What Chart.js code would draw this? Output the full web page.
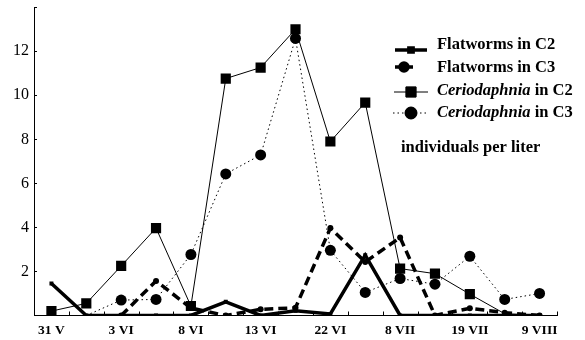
<!DOCTYPE html>
<html lang="en">
<head>
<meta charset="UTF-8">
<title>Flatworms and Ceriodaphnia</title>
<script src="https://cdn.jsdelivr.net/npm/chart.js"></script>
<style>
  html, body { margin: 0; padding: 0; background: #fff; }
  #wrap { position: relative; width: 585px; height: 340px; }
</style>
</head>
<body>
<div id="wrap"><canvas id="chart" width="585" height="340"></canvas></div>
<script>
// sampling dates (only every second one is labelled)
var dates = ['31 V', '', '3 VI', '', '8 VI', '', '13 VI', '', '22 VI', '', '8 VII', '', '19 VII', '', '9 VIII'];
var yTicks = [2, 4, 6, 8, 10, 12];

// individuals per liter
var flatC2 = [1.45, 0, 0, 0, 0, 0.62, 0, 0.22, 0.07, 2.74, 0, 0, 0, 0, 0];
var flatC3 = [null, null, 0, 1.57, 0.34, 0, 0.28, 0.35, 3.97, 2.43, 3.54, 0, 0.33, 0.13, 0];
var cerioC2 = [0.2, 0.55, 2.25, 3.97, 0.43, 10.76, 11.26, 13.0, 7.9, 9.67, 2.13, 1.9, 0.97, 0.08, 0];
var cerioC3 = [null, 0, 0.7, 0.73, 2.77, 6.43, 7.29, 12.58, 2.96, 1.05, 1.68, 1.42, 2.69, 0.73, 1.0];

var serif = '"Liberation Serif", "Times New Roman", serif';
Chart.defaults.font.family = serif;

// hide big markers for values lying on the axis
function bigRadius(r) {
  return function (c) { var v = c.raw; return (v === null || v < 0.15) ? 0 : r; };
}

var inwardTicks = {
  id: 'inwardTicks',
  afterDraw: function (chart) {
    var ctx = chart.ctx, x = chart.scales.x, y = chart.scales.y;
    var half = (x.getPixelForValue(1) - x.getPixelForValue(0)) / 2;
    ctx.save();
    ctx.strokeStyle = '#000';
    ctx.lineWidth = 1;
    ctx.beginPath();
    for (var i = 1; i <= dates.length; i++) {
      var px = Math.round(x.getPixelForValue(i - 1) + half) + 0.5;
      ctx.moveTo(px, y.bottom);
      ctx.lineTo(px, y.bottom - 4);
    }
    yTicks.concat([14]).forEach(function (v) {
      var py = Math.round(y.getPixelForValue(v)) + 0.5;
      ctx.moveTo(x.left, py);
      ctx.lineTo(x.left + 3, py);
    });
    ctx.stroke();
    ctx.restore();
  }
};

var legendBox = {
  id: 'legendBox',
  afterDraw: function (chart) {
    var ctx = chart.ctx;
    var rows = [
      { y: 45, ly: 50, ds: 0, italic: '', rest: 'Flatworms in C2', w: 32 },
      { y: 68, ly: 67, ds: 1, italic: '', rest: 'Flatworms in C3', w: 18 },
      { y: 91, ly: 92, ds: 2, italic: 'Ceriodaphnia', rest: ' in C2', w: 34 },
      { y: 113, ly: 113, ds: 3, italic: 'Ceriodaphnia', rest: ' in C3', w: 36 }
    ];
    var cx = 411, tx = 437;
    ctx.save();
    rows.forEach(function (r) {
      var d = chart.data.datasets[r.ds];
      var cx0 = r.ds === 1 ? 404 : cx;
      ctx.strokeStyle = '#000';
      ctx.fillStyle = '#000';
      ctx.lineWidth = d.borderWidth;
      ctx.setLineDash(d.borderDash || []);
      ctx.beginPath();
      ctx.moveTo(cx0 - r.w / 2, r.ly);
      ctx.lineTo(cx0 + r.w / 2, r.ly);
      ctx.stroke();
      ctx.setLineDash([]);
      Chart.helpers.drawPoint(ctx, { pointStyle: d.pointStyle, radius: d.legendRadius, borderWidth: 1 }, cx0, r.ly);
      ctx.fill();
      ctx.textBaseline = 'middle';
      ctx.textAlign = 'left';
      var x0 = tx;
      if (r.italic) {
        ctx.font = 'italic bold 16.5px ' + serif;
        ctx.fillText(r.italic, x0, r.y);
        x0 += ctx.measureText(r.italic).width;
      }
      ctx.font = 'bold 16.5px ' + serif;
      ctx.fillText(r.rest, x0, r.y);
    });
    ctx.font = 'bold 16.5px ' + serif;
    ctx.fillText('individuals per liter', 401, 148);
    ctx.restore();
  }
};

new Chart(document.getElementById('chart'), {
  type: 'line',
  data: {
    labels: dates,
    datasets: [
      {
        label: 'Flatworms in C2', data: flatC2,
        borderColor: '#000', backgroundColor: '#000', borderWidth: 3.5,
        pointStyle: 'rect', pointRadius: 2.8, legendRadius: 3, pointBorderWidth: 0
      },
      {
        label: 'Flatworms in C3', data: flatC3,
        borderColor: '#000', backgroundColor: '#000', borderWidth: 3.5, borderDash: [9, 5],
        pointStyle: 'circle', pointRadius: 3, legendRadius: 4, pointBorderWidth: 0
      },
      {
        label: 'Ceriodaphnia in C2', data: cerioC2,
        borderColor: '#000', backgroundColor: '#000', borderWidth: 1,
        pointStyle: 'rect', pointRadius: bigRadius(7.2), legendRadius: 7.2, pointBorderWidth: 0
      },
      {
        label: 'Ceriodaphnia in C3', data: cerioC3,
        borderColor: '#000', backgroundColor: '#000', borderWidth: 1, borderDash: [1.5, 3],
        pointStyle: 'circle', pointRadius: bigRadius(5.5), legendRadius: 6, pointBorderWidth: 0
      }
    ]
  },
  options: {
    responsive: false,
    animation: false,
    layout: { padding: { top: 6, right: 28, bottom: 0, left: 0 } },
    plugins: { legend: { display: false }, tooltip: { enabled: false } },
    elements: { line: { tension: 0 } },
    scales: {
      x: {
        offset: true,
        afterFit: function (s) { s.height = 24.5; },
        grid: { display: false, drawTicks: false, offset: true },
        border: { display: true, color: '#000', width: 1 },
        ticks: {
          autoSkip: false, maxRotation: 0, padding: 7, color: '#000',
          font: { family: serif, size: 13.5, weight: 'bold' }
        }
      },
      y: {
        min: 0, max: 14,
        afterFit: function (s) { s.width = 34; },
        grid: { display: false, drawTicks: false },
        border: { display: true, color: '#000', width: 1 },
        ticks: {
          stepSize: 2, padding: 5, color: '#000',
          font: { family: serif, size: 16, lineHeight: 0.2 },
          callback: function (v) { return yTicks.indexOf(v) >= 0 ? v : null; }
        }
      }
    }
  },
  plugins: [inwardTicks, legendBox]
});
</script>
</body>
</html>
